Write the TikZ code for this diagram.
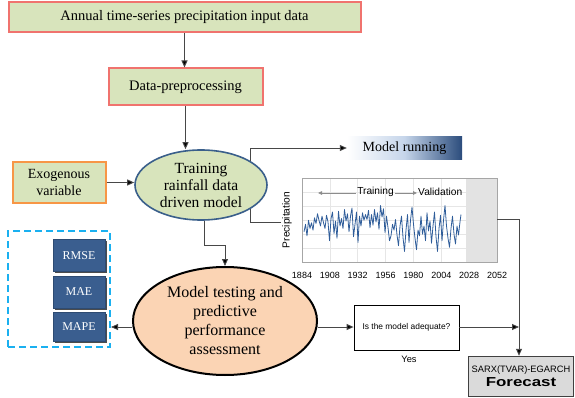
\documentclass[tikz,border=0pt]{standalone}
\usepackage{fontspec}
\setmainfont{Liberation Serif}
\newfontfamily\chartfont{Liberation Sans}
\usetikzlibrary{arrows.meta,shapes.geometric,calc,shadows}
\definecolor{greenfill}{HTML}{D8E4BC}
\definecolor{salmon}{HTML}{F0736E}
\definecolor{orangeb}{HTML}{F79646}
\definecolor{ellblue}{HTML}{3A5F8B}
\definecolor{peach}{HTML}{FBD4B4}
\definecolor{metric}{HTML}{3A5E8F}
\definecolor{cyanb}{HTML}{1AB0F0}
\definecolor{gridg}{HTML}{E6E6E6}
\definecolor{shadeg}{HTML}{E3E3E3}
\definecolor{frameg}{HTML}{A6A6A6}
\definecolor{seriesb}{HTML}{2F5D9A}
\definecolor{navy}{HTML}{2B4C7C}
\definecolor{lightb}{HTML}{C5D5EA}
\definecolor{fcfill}{HTML}{DADADA}
\tikzset{
  gbox/.style={draw=salmon, line width=2pt, fill=greenfill, inner sep=0pt,
    font=\fontsize{14.5}{17}\selectfont},
  metricbox/.style={fill=metric, draw=metric!80!black, line width=0.4pt, text=white,
    minimum width=52pt, minimum height=32pt, inner sep=0pt,
    font=\fontsize{12}{14}\selectfont,
    drop shadow={shadow xshift=1.6pt, shadow yshift=-1.6pt, fill=black!70, opacity=1}},
  conn/.style={draw=black!72, line width=0.9pt},
  arr/.style={conn, -{Triangle[length=7pt,width=6pt,fill=black]}},
  garr/.style={draw=black!45, line width=0.8pt, -{Triangle[length=4pt,width=3.5pt]}},
  chart/.style={font=\chartfont\fontsize{10.2}{12}\selectfont, inner sep=1pt},
  yearlab/.style={font=\chartfont\fontsize{9}{11}\selectfont, inner sep=0pt},
}
\begin{document}
\begin{tikzpicture}[x=1pt,y=-1pt]
\useasboundingbox (0,0) rectangle (575,398);

% top boxes
\node[gbox, minimum width=352pt, minimum height=30pt] (input) at (184.5,17.5) {Annual time-series precipitation input data};
\node[gbox, minimum width=154pt, minimum height=37pt] (prep) at (185.5,87) {Data-preprocessing};

% model running box
\node[left color=white, right color=navy, middle color=lightb, minimum width=115pt, minimum height=23pt, inner sep=0pt,
  font=\fontsize{14}{16}\selectfont] (run) at (404.5,148.5) {Model running};

% bracket behind training ellipse
\coordinate (k1) at (250,148);
\coordinate (k2) at (250,222);
\coordinate (k3) at (281,222);
\draw[conn] (k3) -- (k2) -- (k1);
\draw[arr] (k1) -- (run.west |- k1);

% training ellipse
\node[ellipse, draw=ellblue, line width=1.6pt, fill=greenfill, minimum width=132pt, minimum height=70pt,
  inner sep=0pt, align=center, font=\fontsize{15.5}{17}\selectfont] (train) at (201,185) {Training\\rainfall data\\driven model};

% exogenous
\node[draw=orangeb, line width=2pt, fill=greenfill, minimum width=93pt, minimum height=40pt, inner sep=0pt,
  align=center, font=\fontsize{14}{17}\selectfont] (exo) at (59,182.5) {Exogenous\\variable};

% chart
\fill[shadeg] (466,178) rectangle (497,262);
\foreach \gy in {192,206,220,234,248} \draw[gridg, line width=0.6pt] (302,\gy) -- (466,\gy);
\foreach \gx in {329.9,357.7,385.6,413.4,441.3} \draw[gridg, line width=0.6pt] (\gx,178) -- (\gx,262);
\begin{scope}[shift={(0,226)}, yscale=0.82, shift={(0,-226)}]
\draw[seriesb, line width=0.8pt, line join=round] plot coordinates {
(304,233) (305.5,224) (307,238) (308.5,219) (310,229) (311.5,222) (313,231) (314.5,216) (316,223) (317.5,211) (319,219) (320.5,226)
(322,214) (323.5,222) (325,229) (326.5,213) (328,221) (329.5,244) (331,217) (332.5,209) (334,235) (335.5,220) (337,241) (338.5,208)
(340,226) (341.5,217) (343,229) (344.5,206) (346,220) (347.5,211) (349,233) (350.5,214) (352,204) (353.5,239) (355,224) (356.5,209)
(358,246) (359.5,214) (361,226) (362.5,210) (364,219) (365.5,212) (367,218) (368.5,207) (370,228) (371.5,212) (373,225) (374.5,206)
(376,221) (377.5,210) (379,230) (380.5,201) (382,215) (383.5,205) (385,234) (386.5,214) (388,228) (389.5,244) (391,238) (392.5,224)
(394,231) (395.5,218) (397,237) (398.5,250) (400,226) (401.5,214) (403,240) (404.5,257) (406,231) (407.5,212) (409,246) (410.5,219)
(412,203) (413.5,224) (415,241) (416.5,255) (418,231) (419.5,238) (421,214) (422.5,236) (424,226) (425.5,244) (427,210) (428.5,232)
(430,220) (431.5,247) (433,226) (434.5,209) (436,239) (437.5,257) (439,229) (440.5,213) (442,244) (443.5,219) (445,201) (446.5,226)
(448,241) (449.5,252) (451,229) (452.5,214) (454,236) (455.5,248) (457,226) (458.5,237) (460,221) (461,212)};
\end{scope}
\node[draw=frameg, line width=0.9pt, minimum width=195pt, minimum height=84pt, inner sep=0pt] (plot) at (399.5,220) {};
\node[chart, rotate=90] (plab) at (287,220) {Precipitation};
\node[chart] (trtxt) at (375.5,192) {Training};
\node[chart, anchor=west] (valtxt) at (417,192) {Validation};
\coordinate (trstart) at (318,193);
\draw[garr] (trtxt.west |- trstart) -- (trstart);
\draw[garr] (trtxt.east |- trstart) -- (valtxt.west |- trstart);
\foreach \yr [count=\i from 0] in {1884,1908,1932,1956,1980,2004,2028,2052}
  \node[yearlab] (yr\i) at (302+\i*27.86,275) {\yr};

% model testing ellipse
\node[ellipse, draw=black, line width=2pt, fill=peach, minimum width=184pt, minimum height=108pt,
  inner sep=0pt, align=center, font=\fontsize{16}{19}\selectfont] (test) at (225,321) {Model testing and\\predictive\\performance\\assessment};

% metrics
\node[draw=cyanb, line width=2pt, dash pattern=on 7pt off 4pt, minimum width=102pt, minimum height=116pt] (dashbox) at (59,289) {};
\node[metricbox] (rmse) at (79,255.5) {RMSE};
\node[metricbox] (mae) at (79,292) {MAE};
\node[metricbox, minimum height=29pt] (mape) at (79,326.5) {MAPE};

% adequacy and forecast
\node[draw=black, line width=0.8pt, minimum width=105pt, minimum height=45pt, inner sep=0pt,
  font=\chartfont\fontsize{8.4}{10}\selectfont] (adeq) at (406.5,327.5) {Is the model adequate?};
\node[font=\chartfont\fontsize{9.3}{11}\selectfont, inner sep=0pt] (yes) at (409,359) {Yes};
\node[draw=black!75, line width=1.4pt, fill=fcfill, minimum width=105pt, minimum height=40pt, inner sep=0pt,
  align=center, font=\chartfont\fontsize{9.3}{13}\selectfont] (fc) at (521,376.5)
  {SARX(TVAR)-EGARCH\\[1pt]{\bfseries\fontsize{13}{14}\selectfont\scalebox{1.3}[1]{Forecast}}};

% connectors
\draw[arr] (input.south) -- (input.south |- prep.north);
\draw[arr] (prep.south) -- (train.north -| prep.south);
\draw[arr] (exo.east) -- (exo.east -| train.west);
\coordinate (b1) at (204,245);
\draw[arr] (train.south -| b1) -- (b1) -- (b1 -| test.north) -- (test.north);
\draw[arr] (test.west |- 0,327) -- (dashbox.east |- 0,327);
\draw[arr] (test.east |- 0,327) -- (adeq.west |- 0,327);
\coordinate (c1) at (519,219);
\coordinate (j) at (519,327);
\draw[conn] (plot.east |- c1) -- (c1);
\draw[arr] (c1) -- (c1 |- fc.north);
\draw[arr] (adeq.east |- j) -- (j);
\end{tikzpicture}
\end{document}
